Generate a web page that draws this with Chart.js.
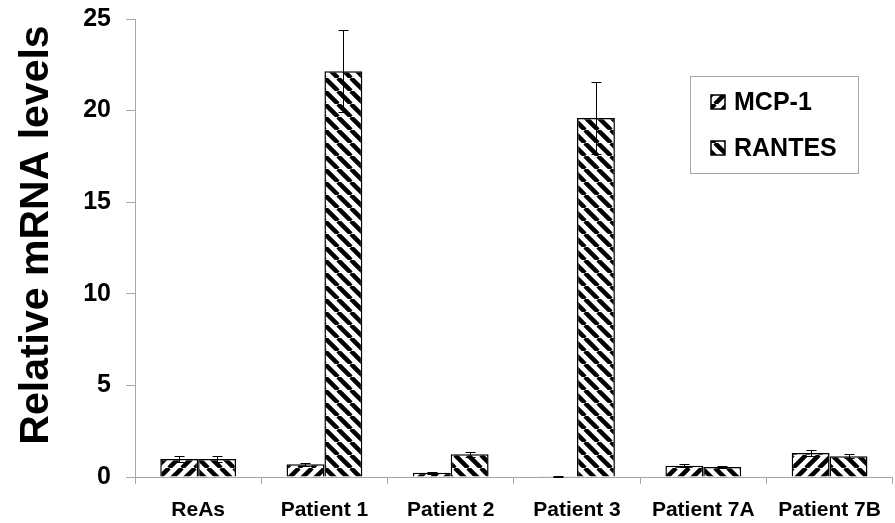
<!DOCTYPE html>
<html lang="en">
<head>
    <meta charset="UTF-8">
    <title>Relative mRNA levels</title>
    <script src="https://cdn.jsdelivr.net/npm/chart.js"></script>
    <style>
        html, body { margin: 0; padding: 0; background: #fff; }
        .box { width: 895px; height: 523px; }
    </style>
</head>
<body>
    <div class="box"><canvas id="grafico"></canvas></div>

<script>
    // dados
    const categorias = ['ReAs', 'Patient 1', 'Patient 2', 'Patient 3', 'Patient 7A', 'Patient 7B'];
    const mcp1 = [0.98, 0.69, 0.23, 0.02, 0.62, 1.31];
    const mcp1Erro = [0.15, 0.10, 0.05, 0.02, 0.07, 0.14];
    const rantes = [0.98, 22.15, 1.24, 19.6, 0.54, 1.13];
    const rantesErro = [0.15, 2.25, 0.14, 1.95, 0.06, 0.11];
    const ticksY = [0, 5, 10, 15, 20, 25];
    const tituloY = 'Relative mRNA levels';

    const fonte = '"Liberation Sans", Arial, sans-serif';
    const cinza = '#a6a6a6';

    // hachura diagonal, direcao 1 = "/" e -1 = "\"
    function criarHachura(direcao) {
        const t = 13;
        const c = document.createElement('canvas');
        c.width = t; c.height = t;
        const g = c.getContext('2d');
        g.fillStyle = '#fff';
        g.fillRect(0, 0, t, t);
        g.strokeStyle = '#000';
        g.lineWidth = 4.5;
        g.beginPath();
        for (let k = -1; k <= 1; k++) {
            if (direcao > 0) {
                g.moveTo(k * t, t); g.lineTo(k * t + t, 0);
            } else {
                g.moveTo(k * t, 0); g.lineTo(k * t + t, t);
            }
        }
        g.stroke();
        return g.createPattern(c, 'repeat');
    }

    const hachuraMcp = criarHachura(1);
    const hachuraRantes = criarHachura(-1);

    // barras de erro desenhadas por cima
    const barrasErro = {
        id: 'barrasErro',
        afterDatasetsDraw(chart) {
            const ctx = chart.ctx;
            const y = chart.scales.y;
            ctx.save();
            ctx.strokeStyle = '#000';
            ctx.lineWidth = 1;
            chart.data.datasets.forEach((ds, i) => {
                const meta = chart.getDatasetMeta(i);
                meta.data.forEach((barra, j) => {
                    const v = ds.data[j], e = ds.erros[j];
                    const x = Math.round(barra.x) + 0.5;
                    const yAlto = Math.round(y.getPixelForValue(v + e)) + 0.5;
                    const yBaixo = Math.round(y.getPixelForValue(Math.max(v - e, 0))) + 0.5;
                    ctx.beginPath();
                    ctx.moveTo(x, yAlto); ctx.lineTo(x, yBaixo);
                    ctx.moveTo(x - 5, yAlto); ctx.lineTo(x + 5, yAlto);
                    ctx.moveTo(x - 5, yBaixo); ctx.lineTo(x + 5, yBaixo);
                    ctx.stroke();
                });
            });
            ctx.restore();
        }
    };

    // legenda com moldura e titulo do eixo y, como no original
    const legendaCaixa = {
        id: 'legendaCaixa',
        afterDraw(chart) {
            const ctx = chart.ctx;
            ctx.save();
            ctx.strokeStyle = cinza;
            ctx.lineWidth = 1;
            ctx.strokeRect(690.5, 76.5, 168, 97);
            const itens = [
                { texto: 'MCP-1', fundo: hachuraMcp, y: 102 },
                { texto: 'RANTES', fundo: hachuraRantes, y: 148 }
            ];
            itens.forEach(it => {
                ctx.fillStyle = it.fundo;
                ctx.fillRect(711, it.y - 7, 14, 14);
                ctx.strokeStyle = '#000';
                ctx.lineWidth = 1.5;
                ctx.strokeRect(711, it.y - 7, 14, 14);
                ctx.fillStyle = '#000';
                ctx.font = 'bold 25px ' + fonte;
                ctx.textBaseline = 'middle';
                ctx.textAlign = 'left';
                ctx.fillText(it.texto, 734, it.y + 1);
            });

            // titulo do eixo y
            ctx.translate(37, 235);
            ctx.rotate(-Math.PI / 2);
            ctx.font = 'bold 41px ' + fonte;
            ctx.textAlign = 'center';
            ctx.textBaseline = 'middle';
            ctx.fillText(tituloY, 0, 0);
            ctx.restore();
        }
    };

    const dados = {
        labels: categorias,
        datasets: [
            {
                label: 'MCP-1',
                data: mcp1,
                erros: mcp1Erro,
                backgroundColor: hachuraMcp,
                borderColor: '#000',
                borderWidth: 1.5,
                categoryPercentage: 0.6,
                barPercentage: 1.0
            },
            {
                label: 'RANTES',
                data: rantes,
                erros: rantesErro,
                backgroundColor: hachuraRantes,
                borderColor: '#000',
                borderWidth: 1.5,
                categoryPercentage: 0.6,
                barPercentage: 1.0
            }
        ]
    };

    const config = {
        type: 'bar',
        data: dados,
        options: {
            responsive: true,
            maintainAspectRatio: false,
            animation: false,
            layout: { padding: { top: 0, right: 1, left: 0, bottom: 0 } },
            plugins: {
                legend: { display: false },
                tooltip: { enabled: false }
            },
            scales: {
                x: {
                    grid: {
                        display: true,
                        drawOnChartArea: false,
                        offset: true,
                        tickLength: 7,
                        color: cinza
                    },
                    border: { color: cinza, width: 1 },
                    ticks: {
                        color: '#000',
                        font: { family: fonte, size: 21, weight: 'bold' },
                        padding: 14,
                        maxRotation: 0,
                        autoSkip: false
                    },
                    afterFit(escala) { escala.height = 46; }
                },
                y: {
                    min: 0,
                    max: 25,
                    afterBuildTicks(escala) {
                        escala.ticks = ticksY.map(v => ({ value: v }));
                    },
                    grid: {
                        display: true,
                        drawOnChartArea: false,
                        tickLength: 9,
                        color: cinza
                    },
                    border: { color: cinza, width: 1 },
                    ticks: {
                        color: '#000',
                        font: { family: fonte, size: 25, weight: 'bold' },
                        padding: 15
                    },
                    afterFit(escala) {
                        escala.width = 135;
                        // topo da area do grafico em y=19
                        escala.paddingTop = 19;
                        escala.paddingBottom = 0;
                    }
                }
            }
        },
        plugins: [barrasErro, legendaCaixa]
    };

    let meuGrafico = new Chart(document.getElementById('grafico'), config);
</script>
</body>
</html>
